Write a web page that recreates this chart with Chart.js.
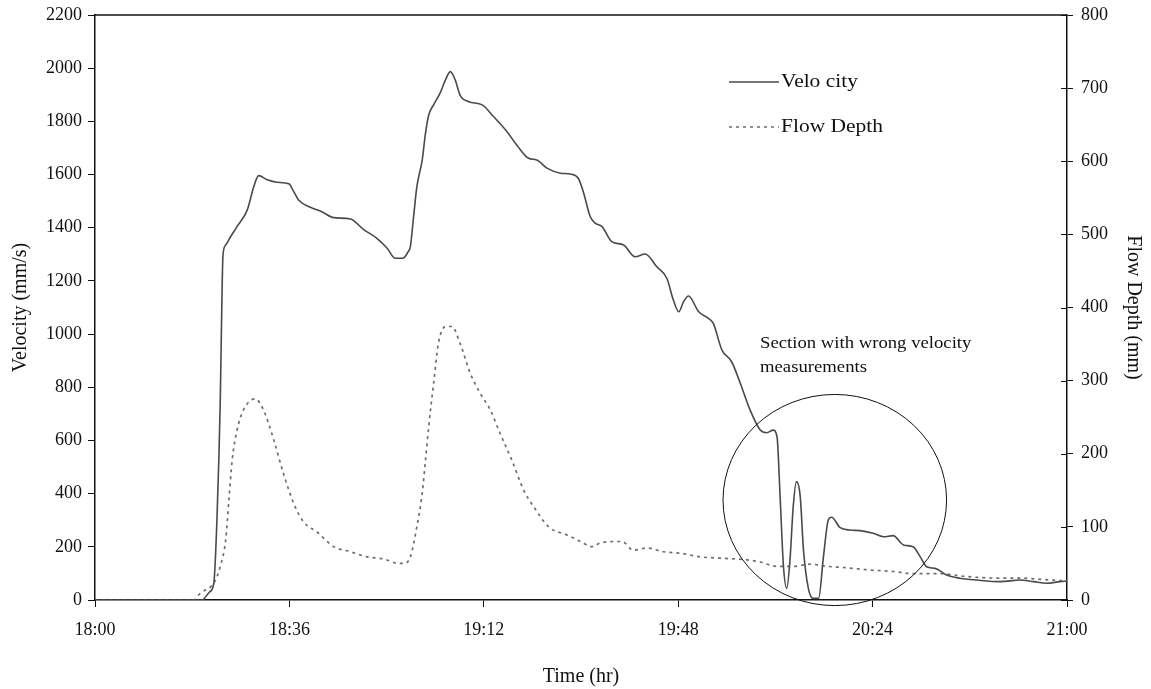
<!DOCTYPE html>
<html>
<head>
<meta charset="utf-8">
<script src="https://cdn.jsdelivr.net/npm/chart.js@4.4.1/dist/chart.umd.min.js"></script>
<style>
  body { margin: 0; background: #fff; }
  #wrap { width: 1151px; height: 689px; }
</style>
</head>
<body>
<div id="wrap"><canvas id="flowChart" width="1151" height="689"></canvas></div>
<script>
// minutes after 18:00
var velTime = [0, 10, 19.8, 21.2, 22.0, 22.6, 23.2, 23.5, 23.7, 24.2, 25.1, 26.3, 28.2, 29.4, 30.3, 31.9, 33.7, 35.9, 36.8, 37.7, 39.9, 42.0, 44.2, 47.3, 49.7, 52.2, 54.1, 55.6, 57.0, 58.0, 58.4, 59.0, 59.6, 60.6, 61.2, 61.8, 62.7, 63.9, 64.9, 65.8, 66.7, 67.6, 69.2, 71.7, 73.8, 76.3, 78.1, 80.3, 81.8, 83.7, 86.2, 88.0, 89.5, 90.5, 91.7, 92.6, 93.9, 95.7, 97.9, 100.0, 101.9, 104.0, 105.9, 107.1, 108.1, 109.0, 109.9, 111.8, 113.6, 114.5, 116.1, 117.9, 119.5, 121.3, 123.2, 124.4, 125.6, 126.3, 126.9, 127.5, 128.1, 128.7, 129.3, 129.9, 130.6, 131.2, 132.1, 133.0, 134.0, 134.9, 135.8, 136.4, 138.0, 139.8, 141.7, 144.1, 146.0, 147.8, 149.7, 151.5, 152.8, 154.0, 155.6, 157.7, 160.2, 163.3, 167.6, 171.3, 173.8, 176.2, 178.7, 180];
var velocity = [0, 0, 0, 30, 63, 313, 752, 1128, 1297, 1335, 1366, 1404, 1467, 1554, 1596, 1580, 1571, 1565, 1536, 1504, 1477, 1460, 1438, 1433, 1394, 1360, 1323, 1285, 1285, 1310, 1329, 1442, 1554, 1655, 1755, 1824, 1862, 1906, 1956, 1987, 1956, 1899, 1874, 1862, 1818, 1761, 1711, 1661, 1655, 1624, 1605, 1602, 1586, 1530, 1442, 1417, 1404, 1348, 1335, 1291, 1301, 1254, 1210, 1128, 1084, 1122, 1143, 1084, 1059, 1040, 940, 896, 815, 715, 639, 629, 639, 614, 376, 125, 44, 150, 351, 445, 389, 188, 44, 6, 6, 163, 301, 311, 272, 263, 261, 251, 238, 242, 207, 200, 163, 125, 119, 94, 82, 75, 69, 75, 69, 63, 69, 71];

var depthTime = [0, 18.2, 19.5, 20.5, 21.4, 22.3, 23.2, 24.2, 24.8, 25.4, 26.3, 27.5, 29.7, 31.2, 33.1, 34.9, 36.8, 38.6, 41.1, 44.2, 47.3, 50.4, 53.5, 56.2, 57.2, 58.4, 59.6, 60.6, 61.2, 61.8, 62.7, 63.6, 64.9, 66.1, 67.6, 69.5, 71.3, 73.2, 75.0, 77.2, 79.4, 81.2, 84.0, 87.4, 89.9, 92.0, 93.6, 96.0, 97.6, 99.7, 102.2, 105.3, 108.4, 112.1, 116.4, 120.7, 123.2, 126.3, 129.4, 132.4, 135.6, 139.3, 143.5, 147.8, 151.5, 156.5, 161.5, 166.4, 171.3, 175.6, 180];
var flowDepth = [0, 0, 9, 14, 18, 27, 46, 82, 137, 191, 232, 260, 275, 260, 219, 173, 132, 107, 93, 73, 66, 59, 56, 50, 50, 59, 100, 146, 191, 237, 296, 351, 374, 374, 351, 310, 283, 260, 228, 191, 150, 128, 100, 89, 80, 73, 78, 80, 80, 68, 71, 66, 64, 59, 57, 55, 52, 46, 46, 49, 46, 44, 41, 39, 36, 36, 32, 30, 30, 28, 26];

var timeLabels = ['18:00', '18:36', '19:12', '19:48', '20:24', '21:00'];
var seriesNames = ['Velo city', 'Flow Depth'];

// circled region, in data units (minutes, mm/s)
var noteCircle = { x: 137, y: 376, rx: 20.7, ry: 397 };
var noteText = ['Section with wrong velocity', 'measurements'];

function pairs(xs, ys) {
  return xs.map(function(x, i) { return { x: x, y: ys[i] }; });
}

var serif = '"Liberation Serif", "DejaVu Serif", serif';
Chart.defaults.font.family = serif;
Chart.defaults.color = '#111';

// text in the reference is a little wider than Times at its height
function wideText(ctx, str, x, y, size, stretch) {
  ctx.save();
  ctx.font = size + 'px ' + serif;
  ctx.translate(x, y);
  ctx.scale(stretch, 1);
  ctx.fillText(str, 0, 0);
  ctx.restore();
}

var extras = {
  id: 'extras',
  afterDraw: function(chart) {
    var ctx = chart.ctx;
    var a = chart.chartArea;
    var xs = chart.scales.x, ys = chart.scales.y, y1 = chart.scales.y1;
    ctx.save();

    // top frame line
    ctx.strokeStyle = '#111';
    ctx.lineWidth = 1.5;
    ctx.beginPath();
    ctx.moveTo(a.left, a.top);
    ctx.lineTo(a.right, a.top);
    ctx.stroke();

    // inner half of the right axis ticks
    ctx.lineWidth = 1;
    y1.ticks.forEach(function(t) {
      var py = Math.round(y1.getPixelForValue(t.value)) + 0.5;
      ctx.beginPath();
      ctx.moveTo(a.right - 6, py);
      ctx.lineTo(a.right, py);
      ctx.stroke();
    });

    // ellipse note
    var cx = xs.getPixelForValue(noteCircle.x);
    var cy = ys.getPixelForValue(noteCircle.y);
    var rx = xs.getPixelForValue(noteCircle.x + noteCircle.rx) - cx;
    var ry = cy - ys.getPixelForValue(noteCircle.y + noteCircle.ry);
    ctx.strokeStyle = '#111';
    ctx.lineWidth = 1;
    ctx.beginPath();
    ctx.ellipse(cx, cy, rx, ry, 0, 0, Math.PI * 2);
    ctx.stroke();

    ctx.fillStyle = '#111';
    ctx.textBaseline = 'middle';
    wideText(ctx, noteText[0], 760, 344, 17, 1.1);
    wideText(ctx, noteText[1], 760, 368, 17, 1.1);

    // legend
    chart.data.datasets.forEach(function(ds, i) {
      var ly = 82 + i * 45;
      ctx.strokeStyle = ds.borderColor;
      ctx.lineWidth = ds.borderWidth;
      ctx.setLineDash(ds.borderDash || []);
      ctx.beginPath();
      ctx.moveTo(729, ly);
      ctx.lineTo(779, ly);
      ctx.stroke();
      ctx.setLineDash([]);
      ctx.fillStyle = '#111';
      wideText(ctx, ds.label, 781, ly, 19, 1.13);
    });
    ctx.restore();
  }
};

var tickFont = { size: 18 };
var titleFont = { size: 20 };

var ctx = document.getElementById('flowChart').getContext('2d');
var chart = new Chart(ctx, {
  type: 'line',
  data: {
    datasets: [{
      label: seriesNames[0],
      data: pairs(velTime, velocity),
      yAxisID: 'y',
      borderColor: '#4a4a4a',
      borderWidth: 1.6,
      pointRadius: 0,
      cubicInterpolationMode: 'monotone',
      fill: false
    }, {
      label: seriesNames[1],
      data: pairs(depthTime, flowDepth),
      yAxisID: 'y1',
      borderColor: '#6e6e6e',
      borderWidth: 1.7,
      borderDash: [3, 4],
      pointRadius: 0,
      cubicInterpolationMode: 'monotone',
      fill: false
    }]
  },
  options: {
    responsive: false,
    animation: false,
    layout: { padding: { top: 15, left: 0, right: 0, bottom: 0 } },
    plugins: { legend: { display: false }, tooltip: { enabled: false } },
    scales: {
      x: {
        type: 'linear',
        min: 0,
        max: 180,
        afterFit: function(s) { s.height = 89; s.paddingLeft = 0; s.paddingRight = 0; },
        ticks: {
          stepSize: 36,
          padding: 12,
          maxRotation: 0,
          font: tickFont,
          color: '#111',
          callback: function(v) { return timeLabels[Math.round(v / 36)]; }
        },
        grid: { drawOnChartArea: false, drawTicks: true, tickLength: 7, color: '#111' },
        border: { color: '#111', width: 1.5 },
        title: { display: true, text: 'Time (hr)', font: titleFont, color: '#111', padding: { top: 0, bottom: 0 } }
      },
      y: {
        position: 'left',
        min: 0,
        max: 2200,
        afterFit: function(s) { s.width = 95; s.paddingTop = 0; s.paddingBottom = 0; },
        ticks: {
          stepSize: 200, padding: 6, font: tickFont, color: '#111',
          callback: function(v) { return String(v); }
        },
        grid: { drawOnChartArea: false, drawTicks: true, tickLength: 7, color: '#111' },
        border: { color: '#111', width: 1.5 },
        title: { display: true, text: 'Velocity (mm/s)', font: titleFont, color: '#111', padding: { top: 9, bottom: 0 } }
      },
      y1: {
        position: 'right',
        min: 0,
        max: 800,
        afterFit: function(s) { s.width = 84; s.paddingTop = 0; s.paddingBottom = 0; },
        ticks: {
          stepSize: 100, padding: 8, font: tickFont, color: '#111',
          callback: function(v) { return String(v); }
        },
        grid: { drawOnChartArea: false, drawTicks: true, tickLength: 6, color: '#111' },
        border: { color: '#111', width: 1.5 },
        title: { display: true, text: 'Flow Depth (mm)', font: titleFont, color: '#111', padding: { top: 6, bottom: 0 } }
      }
    }
  },
  plugins: [extras]
});
</script>
</body>
</html>
